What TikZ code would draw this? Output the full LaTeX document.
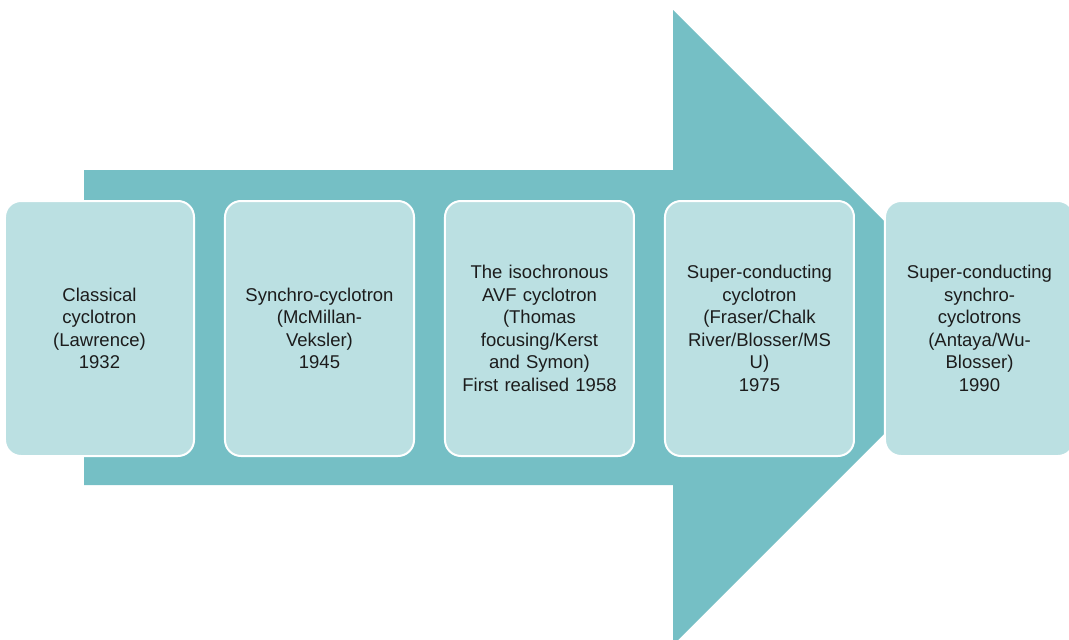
\documentclass[tikz,border=0pt]{standalone}
\usepackage{fontspec}
\setmainfont{Liberation Sans}
\usepackage{tikz}

\definecolor{arrowteal}{HTML}{75BFC5}
\definecolor{boxteal}{HTML}{BBE0E2}
\definecolor{textgray}{HTML}{1C1C1C}

\begin{document}
\begin{tikzpicture}[x=1pt,y=-1pt,
  every matrix/.style={ampersand replacement=\&,column sep=29pt,inner sep=0pt,outer sep=0pt},
  bigarrow/.style={fill=arrowteal},
  box/.style={rounded corners=16pt,fill=boxteal,draw=white,line width=2pt,outer sep=0pt,
    minimum width=189pt,minimum height=255pt,text width=180pt,
    text=textgray,font=\fontsize{18.5}{22.5}\selectfont},
  every node/.style={align=center}]

\useasboundingbox (0,0) rectangle (1069,640);

% The big arrow behind the boxes
\fill[bigarrow] (84,170) -- (673,170) -- (673,10) -- (990.5,327.5)
  -- (673,645) -- (673,485) -- (84,485) -- cycle;

% Position the nodes using a matrix layout
\matrix[anchor=west] at (4,328.5) {
    \node[box] (classicalCyclotron) {Classical\\cyclotron\\(Lawrence)\\1932};
    \& \node[box] (synchroCyclotron) {Synchro-cyclotron\\(McMillan-\\Veksler)\\1945};
    \& \node[box] (isochronousCyclotron) {The isochronous\\AVF cyclotron\\(Thomas\\focusing/Kerst\\and Symon)\\First realised 1958};
    \& \node[box] (superconductingCyclotron) {Super-conducting\\cyclotron\\(Fraser/Chalk\\River/Blosser/MS\\U)\\1975};
    \& \node[box] (superconductingSynchro) {Super-conducting\\synchro-\\cyclotrons\\(Antaya/Wu-\\Blosser)\\1990};
    \\
  };

\end{tikzpicture}
\end{document}
